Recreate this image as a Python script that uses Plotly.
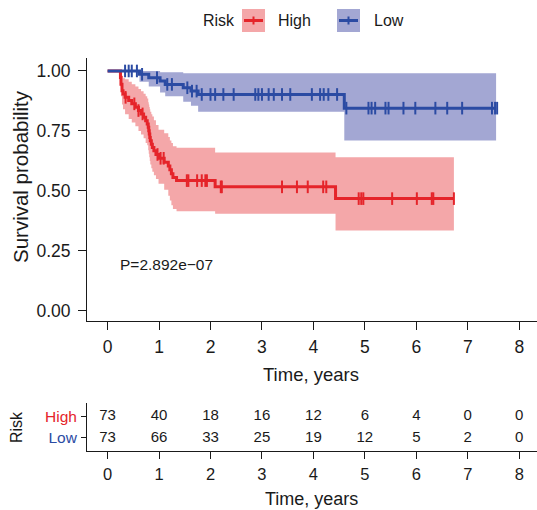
import plotly.graph_objects as go
import numpy as np

# ---------------- data ----------------
high_time  = [0, 0.25, 0.26, 0.28, 0.30, 0.34, 0.41, 0.47, 0.54, 0.60, 0.65, 0.70, 0.74, 0.77, 0.79, 0.80,
              0.81, 0.82, 0.83, 0.85, 0.87, 0.90, 0.94, 0.99, 1.10, 1.18, 1.21, 1.24, 1.27, 1.34, 2.09, 4.43]
high_surv  = [1.0, 0.973, 0.945, 0.918, 0.904, 0.890, 0.877, 0.863, 0.849, 0.835, 0.821, 0.807, 0.793, 0.779,
              0.765, 0.751, 0.737, 0.723, 0.709, 0.695, 0.681, 0.667, 0.652, 0.636, 0.620, 0.604, 0.588, 0.572,
              0.556, 0.543, 0.517, 0.468]
high_lower = [1.0, 0.935, 0.895, 0.86, 0.84, 0.82, 0.80, 0.785, 0.77, 0.75, 0.735, 0.72, 0.70, 0.69, 0.67, 0.655,
              0.64, 0.625, 0.61, 0.595, 0.58, 0.565, 0.55, 0.53, 0.505, 0.48, 0.46, 0.44, 0.425, 0.415, 0.405, 0.335]
high_upper = [1.0, 1.0, 0.99, 0.98, 0.97, 0.965, 0.955, 0.945, 0.935, 0.925, 0.915, 0.905, 0.895, 0.885, 0.87,
              0.86, 0.85, 0.84, 0.83, 0.82, 0.81, 0.795, 0.775, 0.755, 0.74, 0.725, 0.71, 0.70, 0.686, 0.68, 0.66, 0.64]
high_end = 6.73
high_censor = [0.35, 0.52, 0.60, 0.68, 0.97, 1.03, 1.09, 1.54, 1.57, 1.74, 1.83, 1.90, 1.93, 2.20, 2.22,
               3.39, 3.68, 3.89, 4.19, 4.25, 4.88, 4.93, 4.97, 5.53, 6.01, 6.30, 6.33, 6.73]

low_time  = [0, 0.62, 0.80, 1.02, 1.12, 1.47, 1.62, 1.76, 4.60]
low_surv  = [1.0, 0.986, 0.972, 0.958, 0.944, 0.930, 0.916, 0.902, 0.845]
low_lower = [1.0, 0.955, 0.935, 0.91, 0.895, 0.872, 0.855, 0.83, 0.71]
low_upper = [1.0, 1.0, 1.0, 0.995, 0.995, 0.99, 0.99, 0.99, 0.99]
low_end = 7.55
low_censor = [0.34, 0.41, 0.47, 0.57, 0.67, 0.96, 1.16, 1.25, 1.55, 1.64, 1.73, 1.83, 2.00, 2.09, 2.25, 2.45,
              2.87, 2.93, 3.00, 3.13, 3.23, 3.39, 3.55, 3.97, 4.13, 4.20, 4.29, 4.46, 4.64, 5.07, 5.13, 5.20,
              5.40, 5.46, 5.75, 5.98, 6.37, 6.60, 6.89, 7.47, 7.53, 7.57]

table_times = [0, 1, 2, 3, 4, 5, 6, 7, 8]
risk_high = [73, 40, 18, 16, 12, 6, 4, 0, 0]
risk_low  = [73, 66, 33, 25, 19, 12, 5, 2, 0]

pval_text = "P=2.892e\u221207"
groups = ["High", "Low"]

# ---------------- styles ----------------
RED = "#E5242A"
BLUE = "#2B4BA3"
RED_FILL = "#F4A7A9"
BLUE_FILL = "#A3A7D3"
TXT = "#1a1a1a"
FONT = "Liberation Sans, Arial, sans-serif"

W, H = 537, 510
ML = 87
PW = W - ML


def px_x(p):
    return (p - ML) / PW


def py(p):
    return 1 - p / H


def step_xy(t, v, end):
    xs, ys = [], []
    for i in range(len(t)):
        x_next = t[i + 1] if i + 1 < len(t) else end
        xs += [t[i], x_next]
        ys += [v[i], v[i]]
    return xs, ys


def step_at(t, v, x):
    idx = np.searchsorted(np.array(t), x, side="right") - 1
    return v[max(idx, 0)]


fig = go.Figure()

curves = [
    (high_time, high_surv, high_lower, high_upper, high_end, high_censor, RED, RED_FILL),
    (low_time, low_surv, low_lower, low_upper, low_end, low_censor, BLUE, BLUE_FILL),
]

for t, s, lo, up, end, cens, col, fcol in curves:
    ux, uy = step_xy(t, up, end)
    lx, ly = step_xy(t, lo, end)
    fig.add_trace(go.Scatter(x=ux + lx[::-1], y=uy + ly[::-1], mode="lines", fill="toself",
                             fillcolor=fcol, line=dict(width=0), hoverinfo="skip",
                             showlegend=False, xaxis="x", yaxis="y"))

for t, s, lo, up, end, cens, col, fcol in curves:
    sx, sy = step_xy(t, s, end)
    fig.add_trace(go.Scatter(x=sx, y=sy, mode="lines", line=dict(color=col, width=3),
                             showlegend=False, xaxis="x", yaxis="y"))
    cy = [step_at(t, s, c) for c in cens]
    fig.add_trace(go.Scatter(x=cens, y=cy, mode="markers",
                             marker=dict(symbol="line-ns", size=9, line=dict(color=col, width=2)),
                             showlegend=False, xaxis="x", yaxis="y"))

# risk table
for row_y, vals in [(1, risk_high), (0, risk_low)]:
    fig.add_trace(go.Scatter(x=table_times, y=[row_y] * len(table_times), mode="text",
                             text=[str(v) for v in vals],
                             textfont=dict(size=15, color=TXT, family=FONT),
                             showlegend=False, xaxis="x2", yaxis="y2"))

xrange = [-0.4, 8.345]
base = dict(showline=True, linecolor=TXT, linewidth=1, ticks="outside", tickcolor=TXT,
            showgrid=False, zeroline=False)

fig.update_layout(
    width=W, height=H,
    margin=dict(l=ML, r=0, t=0, b=0),
    plot_bgcolor="white", paper_bgcolor="white",
    showlegend=False,
    font=dict(family=FONT, color=TXT),
    xaxis=dict(domain=[0, 1], range=xrange, tickvals=table_times, ticklen=8, anchor="y",
               ticklabelstandoff=2,
               tickfont=dict(family=FONT, color=TXT, size=17.5), **base),
    yaxis=dict(domain=[py(321), py(58)], range=[-0.042, 1.054], tickvals=[0, 0.25, 0.5, 0.75, 1.0],
               ticktext=["0.00", "0.25", "0.50", "0.75", "1.00"], ticklen=8, anchor="x",
               ticklabelstandoff=4,
               tickfont=dict(family=FONT, color=TXT, size=17.5), **base),
    xaxis2=dict(domain=[0, 1], range=xrange, tickvals=table_times, ticklen=7, anchor="y2",
                ticklabelstandoff=1,
                tickfont=dict(family=FONT, color=TXT, size=16.5), **base),
    yaxis2=dict(domain=[py(451), py(403)], range=[-0.6, 1.6], tickvals=[1, 0],
                ticktext=[f"<span style='color:{RED}'>High</span>", f"<span style='color:{BLUE}'>Low</span>"],
                ticklen=5, anchor="x2", ticklabelstandoff=1,
                tickfont=dict(family=FONT, color=TXT, size=15.5), **base),
)

ann = []
ann.append(dict(text="Time, years", x=px_x(311), y=py(374), xref="paper", yref="paper",
                showarrow=False, font=dict(size=18.5, family=FONT, color=TXT), xanchor="center", yanchor="middle"))
ann.append(dict(text="Time, years", x=px_x(311), y=py(499), xref="paper", yref="paper",
                showarrow=False, font=dict(size=18, family=FONT, color=TXT), xanchor="center", yanchor="middle"))
ann.append(dict(text="Survival probability", x=px_x(20), y=py(177), xref="paper", yref="paper", textangle=-90,
                showarrow=False, font=dict(size=20.5, family=FONT, color=TXT), xanchor="center", yanchor="middle"))
ann.append(dict(text="Risk", x=px_x(16), y=py(427), xref="paper", yref="paper", textangle=-90,
                showarrow=False, font=dict(size=16, family=FONT, color=TXT), xanchor="center", yanchor="middle"))
ann.append(dict(text=pval_text, x=0.2, y=0.195, xref="x", yref="y", xanchor="left", yanchor="middle",
                showarrow=False, font=dict(size=15.5, family=FONT, color=TXT)))
# legend
ann.append(dict(text="Risk", x=px_x(201), y=py(21), xref="paper", yref="paper", xanchor="left", yanchor="middle",
                showarrow=False, font=dict(size=16, family=FONT, color=TXT)))
shapes = []
for label, x0, tx, col, fcol in [(groups[0], 242, 276, RED, RED_FILL), (groups[1], 337, 372, BLUE, BLUE_FILL)]:
    shapes.append(dict(type="rect", xref="paper", yref="paper", x0=px_x(x0), x1=px_x(x0 + 23),
                       y0=py(32), y1=py(9), fillcolor=fcol, line=dict(width=0), layer="above"))
    shapes.append(dict(type="line", xref="paper", yref="paper", x0=px_x(x0 + 2), x1=px_x(x0 + 21),
                       y0=py(20.5), y1=py(20.5), line=dict(color=col, width=3), layer="above"))
    shapes.append(dict(type="line", xref="paper", yref="paper", x0=px_x(x0 + 11.5), x1=px_x(x0 + 11.5),
                       y0=py(16.5), y1=py(24.5), line=dict(color=col, width=2), layer="above"))
    ann.append(dict(text=label, x=px_x(tx), y=py(21), xref="paper", yref="paper", xanchor="left", yanchor="middle",
                    showarrow=False, font=dict(size=16, family=FONT, color=TXT)))

fig.update_layout(annotations=ann, shapes=shapes)
fig.write_html("out.html")
